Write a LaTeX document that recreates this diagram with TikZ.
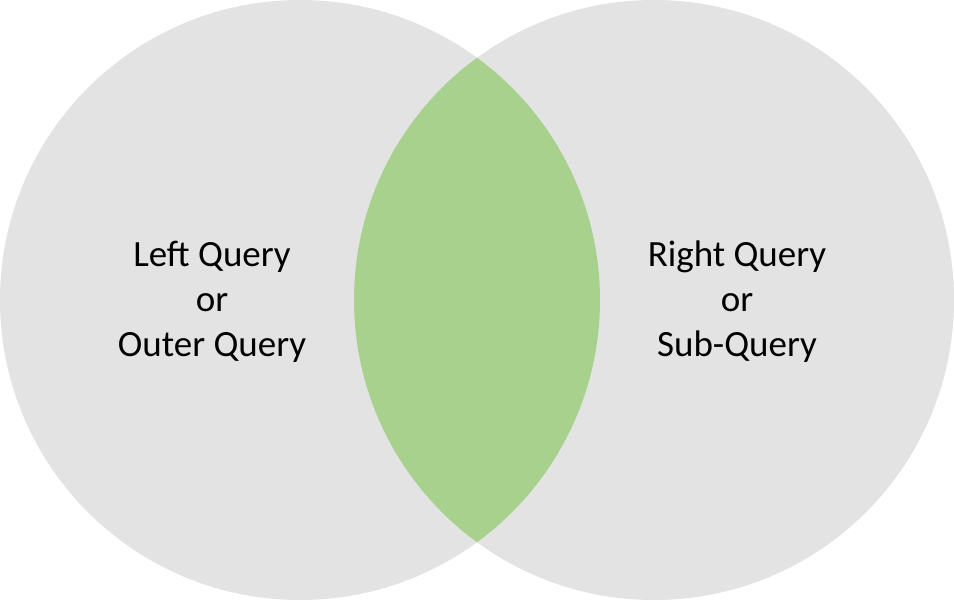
\documentclass[tikz,border=0pt]{standalone}
\usepackage{fontspec}
\setmainfont{Carlito}
\definecolor{vgray}{HTML}{E3E3E3}
\definecolor{vgreen}{HTML}{A9D18E}
\begin{document}
\begin{tikzpicture}[x=1pt,y=-1pt,lbl/.style={align=center,font=\fontsize{37}{45}\selectfont,text=black}]
\useasboundingbox (0,0) rectangle (954,600);
\fill[vgray] (300,300) circle (300);
\fill[vgray] (654,300) circle (300);
\begin{scope}
\clip (300,300) circle (300);
\fill[vgreen] (654,300) circle (300);
\end{scope}
\node[lbl] (l) at (212,302) {Left Query\\or\\Outer Query};
\node[lbl] (r) at (737,302) {Right Query\\or\\Sub-Query};
\end{tikzpicture}
\end{document}
